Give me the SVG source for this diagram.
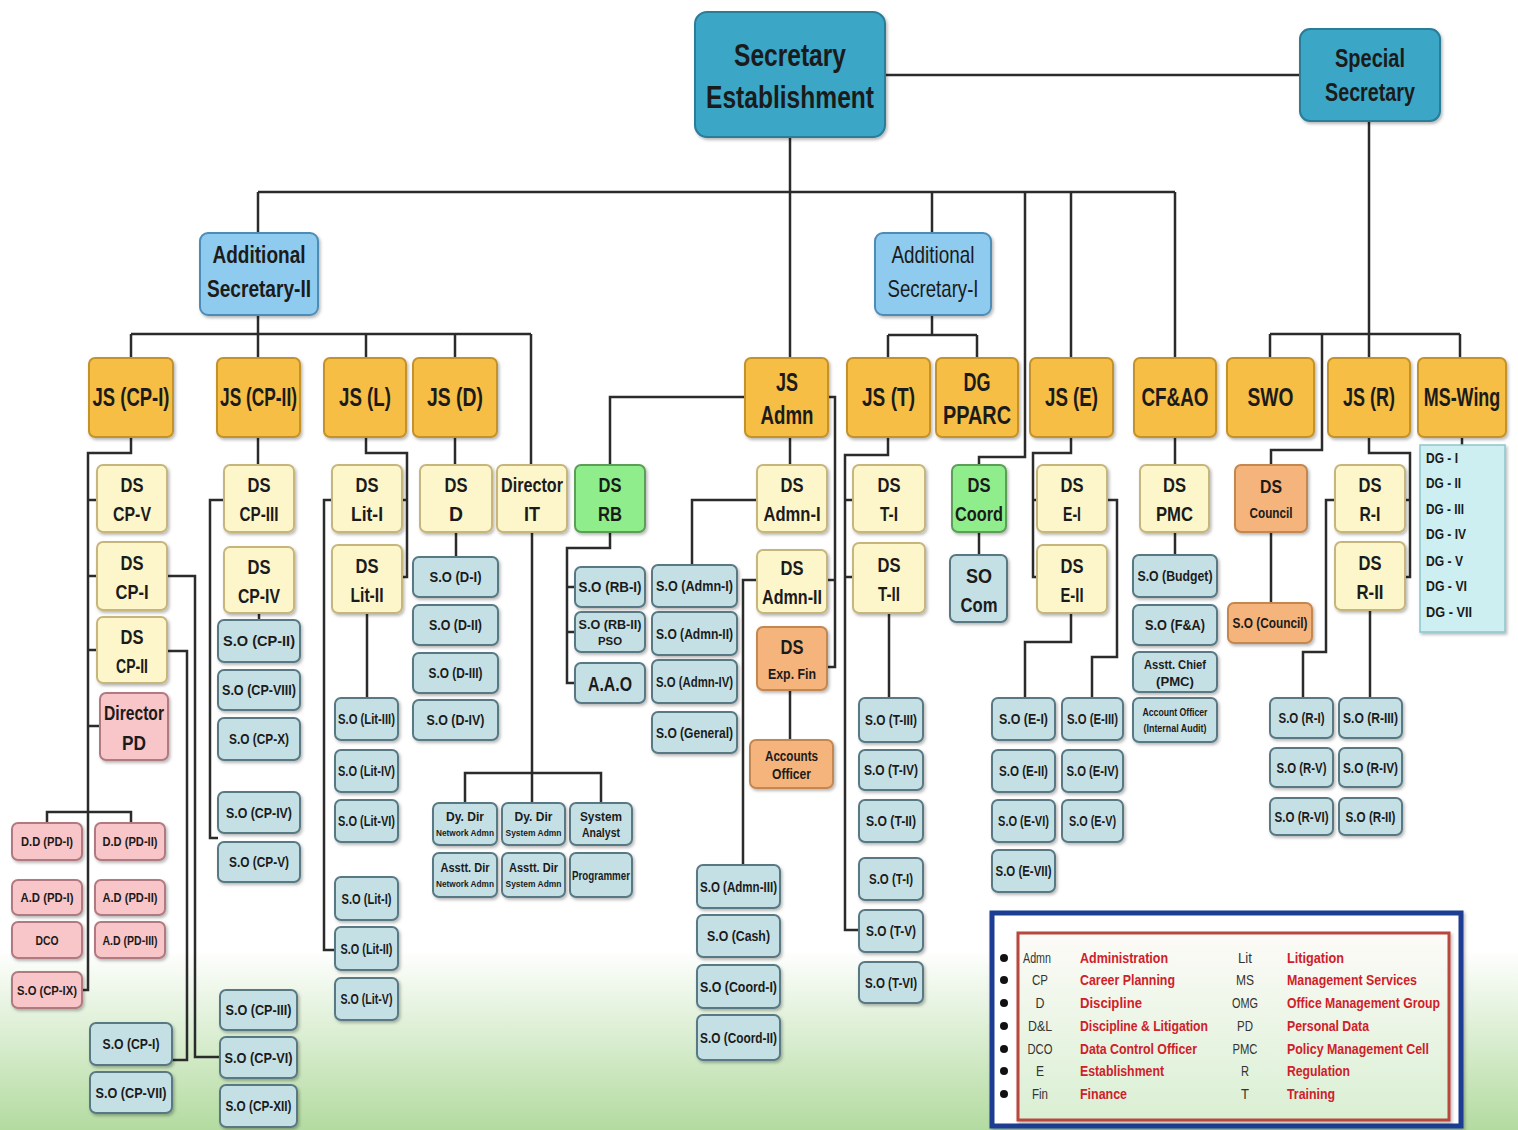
<svg xmlns="http://www.w3.org/2000/svg" width="1518" height="1130" viewBox="0 0 1518 1130">
<defs>
<linearGradient id="bg" x1="0" y1="0" x2="0" y2="1">
<stop offset="0" stop-color="#ffffff"/>
<stop offset="0.84" stop-color="#ffffff"/>
<stop offset="1" stop-color="#b3dba0"/>
</linearGradient>
<linearGradient id="lg" x1="0" y1="0" x2="0" y2="1">
<stop offset="0" stop-color="#fdfbf8"/>
<stop offset="1" stop-color="#d9efd3"/>
</linearGradient>
<filter id="sh" x="-10%" y="-10%" width="125%" height="130%">
<feDropShadow dx="1.5" dy="2" stdDeviation="1.5" flood-color="#000" flood-opacity="0.28"/>
</filter>
</defs>
<style>
rect{rx:6px;ry:6px}
g[id] > rect{filter:url(#sh)}
.top{fill:#3aa6c6;stroke:#2a7c97;stroke-width:2}
.as{fill:#8fcbee;stroke:#4e8cb7;stroke-width:2}
.js{fill:#f6be45;stroke:#c4922a;stroke-width:2}
.ds{fill:#fdf6cb;stroke:#c6b67c;stroke-width:2}
.so{fill:#c5e0e5;stroke:#587984;stroke-width:2}
.gr{fill:#8fee8b;stroke:#5c9d58;stroke-width:2}
.or{fill:#f5b47c;stroke:#c4874f;stroke-width:2}
.pk{fill:#f8c6c9;stroke:#b07a80;stroke-width:2}
.ms{fill:#cdeff1;stroke:#8cc6cc;stroke-width:1.5;rx:0;ry:0}
text{font-family:"Liberation Sans",Arial,sans-serif;font-weight:bold;fill:#1b1b1b;text-anchor:middle}
.f32{font-size:32px}.f26{font-size:26px}.f24{font-size:24px}.f21{font-size:21px}.f19{font-size:19px}
.f15{font-size:15px}.f14{font-size:14px}.f13{font-size:13px}.f11{font-size:11px}.f9{font-size:9px}
.light{font-weight:normal}
.dg{font-size:14px;text-anchor:start}
.conn path{fill:none;stroke:#2b2b2b;stroke-width:2.5}
.lab{font-size:14px;font-weight:normal;fill:#333}
.des{font-size:14px;text-anchor:start;fill:#d0202a}
</style>
<rect x="0" y="0" width="1518" height="1130" fill="url(#bg)" style="rx:0;ry:0"/>

<g id="connectors" class="conn">
<path d="M885,75 H1300"/>
<path d="M790,137 V358"/>
<path d="M258,192 H1175"/>
<path d="M258,192 V233"/>
<path d="M932,192 V233"/>
<path d="M1025,192 V457 H979 V465"/>
<path d="M1071,192 V358"/>
<path d="M1175,192 V358"/>
<path d="M1369,121 V358"/>
<path d="M1270,334 H1460"/>
<path d="M1270,334 V358"/>
<path d="M1460,334 V358"/>
<path d="M1322,334 V450 H1271 V465"/>
<path d="M258,315 V358"/>
<path d="M131,334 H531"/>
<path d="M131,334 V358"/>
<path d="M366,334 V358"/>
<path d="M455,334 V358"/>
<path d="M531,334 V465"/>
<path d="M932,315 V335"/>
<path d="M888,335 H977"/>
<path d="M888,335 V358"/>
<path d="M977,335 V358"/>
<path d="M745,397 H610 V465"/>
<path d="M790,437 V465"/>
<path d="M828,397 H835 V667 H827"/>
<path d="M835,580 H827"/>
<path d="M131,437 V453 H88 V990 H82"/>
<path d="M88,500 H97"/>
<path d="M88,576 H97"/>
<path d="M88,650 H97"/>
<path d="M88,726 H100"/>
<path d="M47,823 V812 H131 V823"/>
<path d="M167,576 H195 V1057 H220"/>
<path d="M167,651 H187 V1060 H172"/>
<path d="M258,437 V465"/>
<path d="M224,500 H210 V838 H218"/>
<path d="M259,613 V620"/>
<path d="M366,437 V453 H407 V577 H402"/>
<path d="M407,500 H402"/>
<path d="M332,500 H324 V950 H335"/>
<path d="M367,613 V698"/>
<path d="M455,437 V465"/>
<path d="M456,532 V557"/>
<path d="M532,532 V803"/>
<path d="M465,803 V773 H601 V803"/>
<path d="M610,532 V548 H567 V683 H575"/>
<path d="M567,587 H575"/>
<path d="M567,632 H575"/>
<path d="M757,500 H692 V565"/>
<path d="M757,580 H743 V865"/>
<path d="M790,690 V740"/>
<path d="M888,437 V455 H845 V930 H859"/>
<path d="M845,500 H853"/>
<path d="M845,577 H853"/>
<path d="M889,613 V698"/>
<path d="M979,532 V555"/>
<path d="M1071,437 V453 H1033 V577 H1037"/>
<path d="M1033,500 H1037"/>
<path d="M1107,500 H1117 V657 H1092 V698"/>
<path d="M1071,613 V642 H1025 V698"/>
<path d="M1175,437 V465"/>
<path d="M1175,532 V555"/>
<path d="M1271,532 V603"/>
<path d="M1369,437 V453 H1410 V577 H1405"/>
<path d="M1410,500 H1405"/>
<path d="M1335,500 H1326 V652 H1303 V698"/>
<path d="M1370,610 V698"/>
<path d="M1462,437 V445"/>
</g>

<g id="sec-est"><rect class="top" x="695" y="12" width="190" height="125" style="rx:12px;ry:12px"/><text class="f32" x="790" y="66" textLength="112" lengthAdjust="spacingAndGlyphs">Secretary</text><text class="f32" x="790" y="108" textLength="168" lengthAdjust="spacingAndGlyphs">Establishment</text></g>
<g id="special-sec"><rect class="top" x="1300" y="29" width="140" height="92" style="rx:10px;ry:10px"/><text class="f26" x="1370" y="67" textLength="70" lengthAdjust="spacingAndGlyphs">Special</text><text class="f26" x="1370" y="101" textLength="90" lengthAdjust="spacingAndGlyphs">Secretary</text></g>
<g id="as-2"><rect class="as" x="200" y="233" width="118" height="82" style="rx:8px;ry:8px"/><text class="f24" x="259" y="263" textLength="93" lengthAdjust="spacingAndGlyphs">Additional</text><text class="f24" x="259" y="297" textLength="104" lengthAdjust="spacingAndGlyphs">Secretary-II</text></g>
<g id="as-1"><rect class="as" x="875" y="233" width="116" height="82" style="rx:8px;ry:8px"/><text class="f24 light" x="933" y="263" textLength="83" lengthAdjust="spacingAndGlyphs">Additional</text><text class="f24 light" x="933" y="297" textLength="91" lengthAdjust="spacingAndGlyphs">Secretary-I</text></g>

<g id="js-cp1"><rect class="js" x="89" y="358" width="84" height="79"/><text class="f26" x="131" y="406" textLength="77" lengthAdjust="spacingAndGlyphs">JS (CP-I)</text></g>
<g id="js-cp2"><rect class="js" x="217" y="358" width="83" height="79"/><text class="f26" x="258.5" y="406" textLength="77" lengthAdjust="spacingAndGlyphs">JS (CP-II)</text></g>
<g id="js-l"><rect class="js" x="324" y="358" width="82" height="79"/><text class="f26" x="365" y="406" textLength="52" lengthAdjust="spacingAndGlyphs">JS (L)</text></g>
<g id="js-d"><rect class="js" x="413" y="358" width="84" height="79"/><text class="f26" x="455" y="406" textLength="56" lengthAdjust="spacingAndGlyphs">JS (D)</text></g>
<g id="js-admn"><rect class="js" x="745" y="358" width="83" height="79"/><text class="f26" x="787" y="391" textLength="22" lengthAdjust="spacingAndGlyphs">JS</text><text class="f26" x="787" y="424" textLength="53" lengthAdjust="spacingAndGlyphs">Admn</text></g>
<g id="js-t"><rect class="js" x="847" y="358" width="83" height="79"/><text class="f26" x="888.5" y="406" textLength="53" lengthAdjust="spacingAndGlyphs">JS (T)</text></g>
<g id="dg-pparc"><rect class="js" x="936" y="358" width="82" height="79"/><text class="f26" x="977" y="391" textLength="27" lengthAdjust="spacingAndGlyphs">DG</text><text class="f26" x="977" y="424" textLength="68" lengthAdjust="spacingAndGlyphs">PPARC</text></g>
<g id="js-e"><rect class="js" x="1030" y="358" width="83" height="79"/><text class="f26" x="1071.5" y="406" textLength="53" lengthAdjust="spacingAndGlyphs">JS (E)</text></g>
<g id="cf-ao"><rect class="js" x="1134" y="358" width="82" height="79"/><text class="f26" x="1175" y="406" textLength="67" lengthAdjust="spacingAndGlyphs">CF&amp;AO</text></g>
<g id="swo"><rect class="js" x="1227" y="358" width="87" height="79"/><text class="f26" x="1270.5" y="406" textLength="46" lengthAdjust="spacingAndGlyphs">SWO</text></g>
<g id="js-r"><rect class="js" x="1328" y="358" width="82" height="79"/><text class="f26" x="1369" y="406" textLength="52" lengthAdjust="spacingAndGlyphs">JS (R)</text></g>
<g id="ms-wing"><rect class="js" x="1418" y="358" width="88" height="79"/><text class="f26" x="0" y="0" transform="translate(1462,406) scale(0.69,1)">MS-Wing</text></g>

<g id="ds-cp5"><rect class="ds" x="97" y="465" width="70" height="67"/><text class="f21" x="132" y="492" textLength="23" lengthAdjust="spacingAndGlyphs">DS</text><text class="f21" x="132" y="521" textLength="38" lengthAdjust="spacingAndGlyphs">CP-V</text></g>
<g id="ds-cp1"><rect class="ds" x="97" y="542" width="70" height="68"/><text class="f21" x="132" y="570" textLength="23" lengthAdjust="spacingAndGlyphs">DS</text><text class="f21" x="132" y="599" textLength="33" lengthAdjust="spacingAndGlyphs">CP-I</text></g>
<g id="ds-cp2"><rect class="ds" x="97" y="617" width="70" height="66"/><text class="f21" x="132" y="644" textLength="23" lengthAdjust="spacingAndGlyphs">DS</text><text class="f21" x="132" y="673" textLength="32" lengthAdjust="spacingAndGlyphs">CP-II</text></g>
<g id="dir-pd"><rect class="pk" x="100" y="693" width="68" height="67"/><text class="f21" x="134" y="720" textLength="60" lengthAdjust="spacingAndGlyphs">Director</text><text class="f21" x="134" y="750" textLength="24" lengthAdjust="spacingAndGlyphs">PD</text></g>
<g id="ds-cp3"><rect class="ds" x="224" y="465" width="70" height="67"/><text class="f21" x="259" y="492" textLength="23" lengthAdjust="spacingAndGlyphs">DS</text><text class="f21" x="259" y="521" textLength="39" lengthAdjust="spacingAndGlyphs">CP-III</text></g>
<g id="ds-cp4"><rect class="ds" x="224" y="547" width="70" height="66"/><text class="f21" x="259" y="574" textLength="23" lengthAdjust="spacingAndGlyphs">DS</text><text class="f21" x="259" y="603" textLength="42" lengthAdjust="spacingAndGlyphs">CP-IV</text></g>
<g id="ds-lit1"><rect class="ds" x="332" y="465" width="70" height="67"/><text class="f21" x="367" y="492" textLength="23" lengthAdjust="spacingAndGlyphs">DS</text><text class="f21" x="367" y="521" textLength="32" lengthAdjust="spacingAndGlyphs">Lit-I</text></g>
<g id="ds-lit2"><rect class="ds" x="332" y="545" width="70" height="68"/><text class="f21" x="367" y="573" textLength="23" lengthAdjust="spacingAndGlyphs">DS</text><text class="f21" x="367" y="602" textLength="33" lengthAdjust="spacingAndGlyphs">Lit-II</text></g>
<g id="ds-d"><rect class="ds" x="420" y="465" width="72" height="67"/><text class="f21" x="456" y="492" textLength="23" lengthAdjust="spacingAndGlyphs">DS</text><text class="f21" x="456" y="521" textLength="14" lengthAdjust="spacingAndGlyphs">D</text></g>
<g id="dir-it"><rect class="ds" x="497" y="465" width="70" height="67"/><text class="f21" x="532" y="492" textLength="62" lengthAdjust="spacingAndGlyphs">Director</text><text class="f21" x="532" y="521" textLength="16" lengthAdjust="spacingAndGlyphs">IT</text></g>
<g id="ds-rb"><rect class="gr" x="575" y="465" width="70" height="67"/><text class="f21" x="610" y="492" textLength="23" lengthAdjust="spacingAndGlyphs">DS</text><text class="f21" x="610" y="521" textLength="24" lengthAdjust="spacingAndGlyphs">RB</text></g>
<g id="ds-admn1"><rect class="ds" x="757" y="465" width="70" height="67"/><text class="f21" x="792" y="492" textLength="23" lengthAdjust="spacingAndGlyphs">DS</text><text class="f21" x="792" y="521" textLength="57" lengthAdjust="spacingAndGlyphs">Admn-I</text></g>
<g id="ds-admn2"><rect class="ds" x="757" y="550" width="70" height="63"/><text class="f21" x="792" y="575" textLength="23" lengthAdjust="spacingAndGlyphs">DS</text><text class="f21" x="792" y="604" textLength="60" lengthAdjust="spacingAndGlyphs">Admn-II</text></g>
<g id="ds-expfin"><rect class="or" x="757" y="627" width="70" height="63"/><text class="f21" x="792" y="654" textLength="23" lengthAdjust="spacingAndGlyphs">DS</text><text class="f14" x="792" y="679" textLength="48" lengthAdjust="spacingAndGlyphs">Exp. Fin</text></g>
<g id="ds-t1"><rect class="ds" x="853" y="465" width="72" height="67"/><text class="f21" x="889" y="492" textLength="23" lengthAdjust="spacingAndGlyphs">DS</text><text class="f21" x="889" y="521" textLength="18" lengthAdjust="spacingAndGlyphs">T-I</text></g>
<g id="ds-t2"><rect class="ds" x="853" y="543" width="72" height="70"/><text class="f21" x="889" y="572" textLength="23" lengthAdjust="spacingAndGlyphs">DS</text><text class="f21" x="889" y="601" textLength="22" lengthAdjust="spacingAndGlyphs">T-II</text></g>
<g id="ds-coord"><rect class="gr" x="952" y="465" width="54" height="67"/><text class="f21" x="979" y="492" textLength="23" lengthAdjust="spacingAndGlyphs">DS</text><text class="f21" x="979" y="521" textLength="48" lengthAdjust="spacingAndGlyphs">Coord</text></g>
<g id="so-com"><rect class="so" x="950" y="555" width="57" height="67"/><text class="f21" x="979" y="583" textLength="26" lengthAdjust="spacingAndGlyphs">SO</text><text class="f21" x="979" y="612" textLength="37" lengthAdjust="spacingAndGlyphs">Com</text></g>
<g id="ds-e1"><rect class="ds" x="1037" y="465" width="70" height="67"/><text class="f21" x="1072" y="492" textLength="23" lengthAdjust="spacingAndGlyphs">DS</text><text class="f21" x="1072" y="521" textLength="18" lengthAdjust="spacingAndGlyphs">E-I</text></g>
<g id="ds-e2"><rect class="ds" x="1037" y="545" width="70" height="68"/><text class="f21" x="1072" y="573" textLength="23" lengthAdjust="spacingAndGlyphs">DS</text><text class="f21" x="1072" y="602" textLength="23" lengthAdjust="spacingAndGlyphs">E-II</text></g>
<g id="ds-pmc"><rect class="ds" x="1140" y="465" width="69" height="67"/><text class="f21" x="1174.5" y="492" textLength="23" lengthAdjust="spacingAndGlyphs">DS</text><text class="f21" x="1174.5" y="521" textLength="37" lengthAdjust="spacingAndGlyphs">PMC</text></g>
<g id="ds-council"><rect class="or" x="1235" y="465" width="72" height="67"/><text class="f19" x="1271" y="493" textLength="22" lengthAdjust="spacingAndGlyphs">DS</text><text class="f14" x="1271" y="518" textLength="43" lengthAdjust="spacingAndGlyphs">Council</text></g>
<g id="ds-r1"><rect class="ds" x="1335" y="465" width="70" height="67"/><text class="f21" x="1370" y="492" textLength="23" lengthAdjust="spacingAndGlyphs">DS</text><text class="f21" x="1370" y="521" textLength="21" lengthAdjust="spacingAndGlyphs">R-I</text></g>
<g id="ds-r2"><rect class="ds" x="1335" y="542" width="70" height="68"/><text class="f21" x="1370" y="570" textLength="23" lengthAdjust="spacingAndGlyphs">DS</text><text class="f21" x="1370" y="599" textLength="27" lengthAdjust="spacingAndGlyphs">R-II</text></g>

<g id="dd-pd1"><rect class="pk" x="12" y="823" width="70" height="37"/><text class="f13" x="47" y="846" textLength="52" lengthAdjust="spacingAndGlyphs">D.D (PD-I)</text></g>
<g id="dd-pd2"><rect class="pk" x="95" y="823" width="70" height="37"/><text class="f13" x="130" y="846" textLength="55" lengthAdjust="spacingAndGlyphs">D.D (PD-II)</text></g>
<g id="ad-pd1"><rect class="pk" x="12" y="880" width="70" height="35"/><text class="f13" x="47" y="902" textLength="53" lengthAdjust="spacingAndGlyphs">A.D (PD-I)</text></g>
<g id="ad-pd2"><rect class="pk" x="95" y="880" width="70" height="35"/><text class="f13" x="130" y="902" textLength="55" lengthAdjust="spacingAndGlyphs">A.D (PD-II)</text></g>
<g id="dco"><rect class="pk" x="12" y="922" width="70" height="36"/><text class="f13" x="47" y="945" textLength="23" lengthAdjust="spacingAndGlyphs">DCO</text></g>
<g id="ad-pd3"><rect class="pk" x="95" y="922" width="70" height="36"/><text class="f13" x="130" y="945" textLength="55" lengthAdjust="spacingAndGlyphs">A.D (PD-III)</text></g>
<g id="so-cp9"><rect class="pk" x="12" y="972" width="70" height="36"/><text class="f13" x="47" y="995" textLength="60" lengthAdjust="spacingAndGlyphs">S.O (CP-IX)</text></g>

<g id="so-cp1"><rect class="so" x="90" y="1023" width="82" height="42"/><text class="f15" x="131" y="1049" textLength="57" lengthAdjust="spacingAndGlyphs">S.O (CP-I)</text></g>
<g id="so-cp7"><rect class="so" x="90" y="1072" width="82" height="41"/><text class="f15" x="131" y="1098" textLength="71" lengthAdjust="spacingAndGlyphs">S.O (CP-VII)</text></g>
<g id="so-cp3"><rect class="so" x="220" y="990" width="77" height="40"/><text class="f15" x="258.5" y="1015" textLength="66" lengthAdjust="spacingAndGlyphs">S.O (CP-III)</text></g>
<g id="so-cp6"><rect class="so" x="220" y="1037" width="77" height="41"/><text class="f15" x="258.5" y="1063" textLength="68" lengthAdjust="spacingAndGlyphs">S.O (CP-VI)</text></g>
<g id="so-cp12"><rect class="so" x="220" y="1085" width="77" height="42"/><text class="f15" x="258.5" y="1111" textLength="66" lengthAdjust="spacingAndGlyphs">S.O (CP-XII)</text></g>
<g id="so-cp2"><rect class="so" x="218" y="620" width="82" height="42"/><text class="f15" x="259" y="646" textLength="72" lengthAdjust="spacingAndGlyphs">S.O (CP-II)</text></g>
<g id="so-cp8"><rect class="so" x="218" y="670" width="82" height="40"/><text class="f15" x="259" y="695" textLength="74" lengthAdjust="spacingAndGlyphs">S.O (CP-VIII)</text></g>
<g id="so-cp10"><rect class="so" x="218" y="718" width="82" height="42"/><text class="f15" x="259" y="744" textLength="60" lengthAdjust="spacingAndGlyphs">S.O (CP-X)</text></g>
<g id="so-cp4"><rect class="so" x="218" y="792" width="82" height="41"/><text class="f15" x="259" y="818" textLength="66" lengthAdjust="spacingAndGlyphs">S.O (CP-IV)</text></g>
<g id="so-cp5"><rect class="so" x="218" y="842" width="82" height="40"/><text class="f15" x="259" y="867" textLength="60" lengthAdjust="spacingAndGlyphs">S.O (CP-V)</text></g>

<g id="so-lit3"><rect class="so" x="335" y="698" width="63" height="42"/><text class="f14" x="366.5" y="724" textLength="57" lengthAdjust="spacingAndGlyphs">S.O (Lit-III)</text></g>
<g id="so-lit4"><rect class="so" x="335" y="750" width="63" height="42"/><text class="f14" x="366.5" y="776" textLength="57" lengthAdjust="spacingAndGlyphs">S.O (Lit-IV)</text></g>
<g id="so-lit6"><rect class="so" x="335" y="800" width="63" height="42"/><text class="f14" x="366.5" y="826" textLength="57" lengthAdjust="spacingAndGlyphs">S.O (Lit-VI)</text></g>
<g id="so-lit1"><rect class="so" x="335" y="877" width="63" height="43"/><text class="f14" x="366.5" y="904" textLength="50" lengthAdjust="spacingAndGlyphs">S.O (Lit-I)</text></g>
<g id="so-lit2"><rect class="so" x="335" y="927" width="63" height="43"/><text class="f14" x="366.5" y="954" textLength="52" lengthAdjust="spacingAndGlyphs">S.O (Lit-II)</text></g>
<g id="so-lit5"><rect class="so" x="335" y="978" width="63" height="42"/><text class="f14" x="366.5" y="1004" textLength="52" lengthAdjust="spacingAndGlyphs">S.O (Lit-V)</text></g>

<g id="so-d1"><rect class="so" x="413" y="557" width="85" height="40"/><text class="f15" x="455.5" y="582" textLength="52" lengthAdjust="spacingAndGlyphs">S.O (D-I)</text></g>
<g id="so-d2"><rect class="so" x="413" y="605" width="85" height="40"/><text class="f15" x="455.5" y="630" textLength="53" lengthAdjust="spacingAndGlyphs">S.O (D-II)</text></g>
<g id="so-d3"><rect class="so" x="413" y="653" width="85" height="40"/><text class="f15" x="455.5" y="678" textLength="54" lengthAdjust="spacingAndGlyphs">S.O (D-III)</text></g>
<g id="so-d4"><rect class="so" x="413" y="700" width="85" height="40"/><text class="f15" x="455.5" y="725" textLength="58" lengthAdjust="spacingAndGlyphs">S.O (D-IV)</text></g>

<g id="it-dd-net"><rect class="so" x="433" y="803" width="64" height="42"/><text class="f13" x="465" y="821" textLength="38" lengthAdjust="spacingAndGlyphs">Dy. Dir</text><text class="f9" x="465" y="836" textLength="58" lengthAdjust="spacingAndGlyphs">Network Admn</text></g>
<g id="it-dd-sys"><rect class="so" x="502" y="803" width="63" height="42"/><text class="f13" x="533.5" y="821" textLength="38" lengthAdjust="spacingAndGlyphs">Dy. Dir</text><text class="f9" x="533.5" y="836" textLength="56" lengthAdjust="spacingAndGlyphs">System Admn</text></g>
<g id="it-sa"><rect class="so" x="570" y="803" width="62" height="42"/><text class="f13" x="601" y="821" textLength="42" lengthAdjust="spacingAndGlyphs">System</text><text class="f13" x="601" y="837" textLength="38" lengthAdjust="spacingAndGlyphs">Analyst</text></g>
<g id="it-ad-net"><rect class="so" x="433" y="853" width="64" height="44"/><text class="f13" x="465" y="872" textLength="49" lengthAdjust="spacingAndGlyphs">Asstt. Dir</text><text class="f9" x="465" y="887" textLength="58" lengthAdjust="spacingAndGlyphs">Network Admn</text></g>
<g id="it-ad-sys"><rect class="so" x="502" y="853" width="63" height="44"/><text class="f13" x="533.5" y="872" textLength="49" lengthAdjust="spacingAndGlyphs">Asstt. Dir</text><text class="f9" x="533.5" y="887" textLength="56" lengthAdjust="spacingAndGlyphs">System Admn</text></g>
<g id="it-prog"><rect class="so" x="570" y="853" width="62" height="44"/><text class="f13" x="601" y="880" textLength="58" lengthAdjust="spacingAndGlyphs">Programmer</text></g>

<g id="so-rb1"><rect class="so" x="575" y="567" width="70" height="40"/><text class="f15" x="610" y="592" textLength="63" lengthAdjust="spacingAndGlyphs">S.O (RB-I)</text></g>
<g id="so-rb2"><rect class="so" x="575" y="612" width="70" height="40"/><text class="f13" x="610" y="629" textLength="63" lengthAdjust="spacingAndGlyphs">S.O (RB-II)</text><text class="f11" x="610" y="645" textLength="24" lengthAdjust="spacingAndGlyphs">PSO</text></g>
<g id="aao"><rect class="so" x="575" y="663" width="70" height="40"/><text class="f21" x="610" y="691" textLength="44" lengthAdjust="spacingAndGlyphs">A.A.O</text></g>

<g id="so-admn1"><rect class="so" x="652" y="565" width="85" height="42"/><text class="f15" x="694.5" y="591" textLength="77" lengthAdjust="spacingAndGlyphs">S.O (Admn-I)</text></g>
<g id="so-admn2"><rect class="so" x="652" y="612" width="85" height="43"/><text class="f15" x="694.5" y="639" textLength="77" lengthAdjust="spacingAndGlyphs">S.O (Admn-II)</text></g>
<g id="so-admn4"><rect class="so" x="652" y="660" width="85" height="43"/><text class="f15" x="694.5" y="687" textLength="77" lengthAdjust="spacingAndGlyphs">S.O (Admn-IV)</text></g>
<g id="so-general"><rect class="so" x="652" y="712" width="85" height="41"/><text class="f15" x="694.5" y="738" textLength="77" lengthAdjust="spacingAndGlyphs">S.O (General)</text></g>
<g id="so-admn3"><rect class="so" x="697" y="865" width="83" height="43"/><text class="f15" x="738.5" y="892" textLength="77" lengthAdjust="spacingAndGlyphs">S.O (Admn-III)</text></g>
<g id="so-cash"><rect class="so" x="697" y="915" width="83" height="42"/><text class="f15" x="738.5" y="941" textLength="63" lengthAdjust="spacingAndGlyphs">S.O (Cash)</text></g>
<g id="so-coord1"><rect class="so" x="697" y="965" width="83" height="43"/><text class="f15" x="738.5" y="992" textLength="77" lengthAdjust="spacingAndGlyphs">S.O (Coord-I)</text></g>
<g id="so-coord2"><rect class="so" x="697" y="1015" width="83" height="45"/><text class="f15" x="738.5" y="1043" textLength="77" lengthAdjust="spacingAndGlyphs">S.O (Coord-II)</text></g>
<g id="accounts-officer"><rect class="or" x="750" y="740" width="83" height="48"/><text class="f14" x="791.5" y="761" textLength="53" lengthAdjust="spacingAndGlyphs">Accounts</text><text class="f14" x="791.5" y="779" textLength="39" lengthAdjust="spacingAndGlyphs">Officer</text></g>

<g id="so-t3"><rect class="so" x="859" y="698" width="64" height="44"/><text class="f14" x="891" y="725" textLength="52" lengthAdjust="spacingAndGlyphs">S.O (T-III)</text></g>
<g id="so-t4"><rect class="so" x="859" y="750" width="64" height="40"/><text class="f14" x="891" y="775" textLength="54" lengthAdjust="spacingAndGlyphs">S.O (T-IV)</text></g>
<g id="so-t2"><rect class="so" x="859" y="800" width="64" height="42"/><text class="f14" x="891" y="826" textLength="50" lengthAdjust="spacingAndGlyphs">S.O (T-II)</text></g>
<g id="so-t1"><rect class="so" x="859" y="858" width="64" height="42"/><text class="f14" x="891" y="884" textLength="44" lengthAdjust="spacingAndGlyphs">S.O (T-I)</text></g>
<g id="so-t5"><rect class="so" x="859" y="910" width="64" height="42"/><text class="f14" x="891" y="936" textLength="50" lengthAdjust="spacingAndGlyphs">S.O (T-V)</text></g>
<g id="so-t6"><rect class="so" x="859" y="962" width="64" height="41"/><text class="f14" x="891" y="988" textLength="52" lengthAdjust="spacingAndGlyphs">S.O (T-VI)</text></g>

<g id="so-e1"><rect class="so" x="992" y="698" width="63" height="42"/><text class="f14" x="1023.5" y="724" textLength="49" lengthAdjust="spacingAndGlyphs">S.O (E-I)</text></g>
<g id="so-e2"><rect class="so" x="992" y="750" width="63" height="42"/><text class="f14" x="1023.5" y="776" textLength="49" lengthAdjust="spacingAndGlyphs">S.O (E-II)</text></g>
<g id="so-e6"><rect class="so" x="992" y="800" width="63" height="42"/><text class="f14" x="1023.5" y="826" textLength="51" lengthAdjust="spacingAndGlyphs">S.O (E-VI)</text></g>
<g id="so-e7"><rect class="so" x="992" y="850" width="63" height="42"/><text class="f14" x="1023.5" y="876" textLength="56" lengthAdjust="spacingAndGlyphs">S.O (E-VII)</text></g>
<g id="so-e3"><rect class="so" x="1062" y="698" width="61" height="42"/><text class="f14" x="1092.5" y="724" textLength="51" lengthAdjust="spacingAndGlyphs">S.O (E-III)</text></g>
<g id="so-e4"><rect class="so" x="1062" y="750" width="61" height="42"/><text class="f14" x="1092.5" y="776" textLength="52" lengthAdjust="spacingAndGlyphs">S.O (E-IV)</text></g>
<g id="so-e5"><rect class="so" x="1062" y="800" width="61" height="42"/><text class="f14" x="1092.5" y="826" textLength="47" lengthAdjust="spacingAndGlyphs">S.O (E-V)</text></g>

<g id="so-budget"><rect class="so" x="1133" y="555" width="84" height="42"/><text class="f15" x="1175" y="581" textLength="75" lengthAdjust="spacingAndGlyphs">S.O (Budget)</text></g>
<g id="so-fa"><rect class="so" x="1133" y="605" width="84" height="40"/><text class="f15" x="1175" y="630" textLength="60" lengthAdjust="spacingAndGlyphs">S.O (F&amp;A)</text></g>
<g id="asstt-chief"><rect class="so" x="1133" y="652" width="84" height="40"/><text class="f13" x="1175" y="669" textLength="62" lengthAdjust="spacingAndGlyphs">Asstt. Chief</text><text class="f13" x="1175" y="686" textLength="38" lengthAdjust="spacingAndGlyphs">(PMC)</text></g>
<g id="account-officer-ia"><rect class="so" x="1133" y="698" width="84" height="44"/><text class="f11" x="1175" y="716" textLength="65" lengthAdjust="spacingAndGlyphs">Account Officer</text><text class="f11" x="1175" y="732" textLength="63" lengthAdjust="spacingAndGlyphs">(Internal Audit)</text></g>

<g id="so-council"><rect class="or" x="1228" y="603" width="84" height="40"/><text class="f14" x="1270" y="628" textLength="75" lengthAdjust="spacingAndGlyphs">S.O (Council)</text></g>

<g id="so-r1"><rect class="so" x="1270" y="698" width="63" height="40"/><text class="f14" x="1301.5" y="723" textLength="46" lengthAdjust="spacingAndGlyphs">S.O (R-I)</text></g>
<g id="so-r5"><rect class="so" x="1270" y="748" width="63" height="39"/><text class="f14" x="1301.5" y="773" textLength="50" lengthAdjust="spacingAndGlyphs">S.O (R-V)</text></g>
<g id="so-r6"><rect class="so" x="1270" y="798" width="63" height="37"/><text class="f14" x="1301.5" y="822" textLength="54" lengthAdjust="spacingAndGlyphs">S.O (R-VI)</text></g>
<g id="so-r3"><rect class="so" x="1339" y="698" width="63" height="40"/><text class="f14" x="1370.5" y="723" textLength="55" lengthAdjust="spacingAndGlyphs">S.O (R-III)</text></g>
<g id="so-r4"><rect class="so" x="1339" y="748" width="63" height="39"/><text class="f14" x="1370.5" y="773" textLength="55" lengthAdjust="spacingAndGlyphs">S.O (R-IV)</text></g>
<g id="so-r2"><rect class="so" x="1339" y="798" width="63" height="37"/><text class="f14" x="1370.5" y="822" textLength="50" lengthAdjust="spacingAndGlyphs">S.O (R-II)</text></g>

<g id="ms-list"><rect class="ms" x="1420" y="445" width="85" height="187"/>
<text class="dg" x="1426" y="463" textLength="32" lengthAdjust="spacingAndGlyphs">DG - I</text>
<text class="dg" x="1426" y="488" textLength="35" lengthAdjust="spacingAndGlyphs">DG - II</text>
<text class="dg" x="1426" y="514" textLength="38" lengthAdjust="spacingAndGlyphs">DG - III</text>
<text class="dg" x="1426" y="539" textLength="40" lengthAdjust="spacingAndGlyphs">DG - IV</text>
<text class="dg" x="1426" y="566" textLength="37" lengthAdjust="spacingAndGlyphs">DG - V</text>
<text class="dg" x="1426" y="591" textLength="41" lengthAdjust="spacingAndGlyphs">DG - VI</text>
<text class="dg" x="1426" y="617" textLength="46" lengthAdjust="spacingAndGlyphs">DG - VII</text></g>

<g id="legend">
<rect x="992" y="913" width="469" height="213" fill="#ffffff" stroke="#1d3c93" stroke-width="5" style="rx:0;ry:0"/>
<rect x="1018" y="933" width="431" height="187" fill="url(#lg)" stroke="#b8473c" stroke-width="3" style="rx:0;ry:0"/>
<g fill="#111"><circle cx="1004" cy="958" r="4"/><circle cx="1004" cy="980" r="4"/><circle cx="1004" cy="1003" r="4"/><circle cx="1004" cy="1026" r="4"/><circle cx="1004" cy="1049" r="4"/><circle cx="1004" cy="1071" r="4"/><circle cx="1004" cy="1094" r="4"/></g>
<text class="lab" x="1037" y="963" textLength="28" lengthAdjust="spacingAndGlyphs">Admn</text><text class="des" x="1080" y="963" textLength="88" lengthAdjust="spacingAndGlyphs">Administration</text>
<text class="lab" x="1040" y="985" textLength="16" lengthAdjust="spacingAndGlyphs">CP</text><text class="des" x="1080" y="985" textLength="95" lengthAdjust="spacingAndGlyphs">Career Planning</text>
<text class="lab" x="1040" y="1008" textLength="9" lengthAdjust="spacingAndGlyphs">D</text><text class="des" x="1080" y="1008" textLength="62" lengthAdjust="spacingAndGlyphs">Discipline</text>
<text class="lab" x="1040" y="1031" textLength="24" lengthAdjust="spacingAndGlyphs">D&amp;L</text><text class="des" x="1080" y="1031" textLength="128" lengthAdjust="spacingAndGlyphs">Discipline &amp; Litigation</text>
<text class="lab" x="1040" y="1054" textLength="25" lengthAdjust="spacingAndGlyphs">DCO</text><text class="des" x="1080" y="1054" textLength="117" lengthAdjust="spacingAndGlyphs">Data Control Officer</text>
<text class="lab" x="1040" y="1076" textLength="8" lengthAdjust="spacingAndGlyphs">E</text><text class="des" x="1080" y="1076" textLength="84" lengthAdjust="spacingAndGlyphs">Establishment</text>
<text class="lab" x="1040" y="1099" textLength="16" lengthAdjust="spacingAndGlyphs">Fin</text><text class="des" x="1080" y="1099" textLength="47" lengthAdjust="spacingAndGlyphs">Finance</text>
<text class="lab" x="1245" y="963" textLength="14" lengthAdjust="spacingAndGlyphs">Lit</text><text class="des" x="1287" y="963" textLength="57" lengthAdjust="spacingAndGlyphs">Litigation</text>
<text class="lab" x="1245" y="985" textLength="18" lengthAdjust="spacingAndGlyphs">MS</text><text class="des" x="1287" y="985" textLength="130" lengthAdjust="spacingAndGlyphs">Management Services</text>
<text class="lab" x="1245" y="1008" textLength="26" lengthAdjust="spacingAndGlyphs">OMG</text><text class="des" x="1287" y="1008" textLength="153" lengthAdjust="spacingAndGlyphs">Office Management Group</text>
<text class="lab" x="1245" y="1031" textLength="16" lengthAdjust="spacingAndGlyphs">PD</text><text class="des" x="1287" y="1031" textLength="82" lengthAdjust="spacingAndGlyphs">Personal Data</text>
<text class="lab" x="1245" y="1054" textLength="25" lengthAdjust="spacingAndGlyphs">PMC</text><text class="des" x="1287" y="1054" textLength="142" lengthAdjust="spacingAndGlyphs">Policy Management Cell</text>
<text class="lab" x="1245" y="1076" textLength="8" lengthAdjust="spacingAndGlyphs">R</text><text class="des" x="1287" y="1076" textLength="63" lengthAdjust="spacingAndGlyphs">Regulation</text>
<text class="lab" x="1245" y="1099" textLength="8" lengthAdjust="spacingAndGlyphs">T</text><text class="des" x="1287" y="1099" textLength="48" lengthAdjust="spacingAndGlyphs">Training</text>
</g>
</svg>
